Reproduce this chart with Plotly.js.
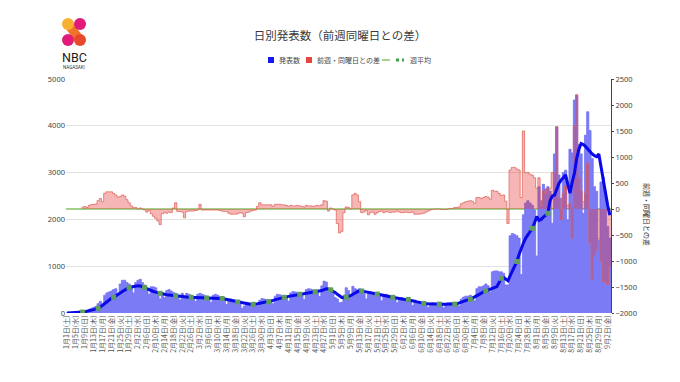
<!DOCTYPE html>
<html>
<head>
<meta charset="utf-8">
<script src="https://cdn.plot.ly/plotly-3.0.1.min.js"></script>
<style>
html,body{margin:0;padding:0;background:#fff;}
#chart{width:680px;height:382px;}
</style>
</head>
<body>
<div id="chart"></div>
<script>
// ---- data (2022, day 0 = 1月1日(土)) ----
const tickLabels = [
'1月1日(土)','1月5日(水)','1月9日(日)','1月13日(木)','1月17日(月)','1月21日(金)','1月25日(火)','1月29日(土)',
'2月2日(水)','2月6日(日)','2月10日(木)','2月14日(月)','2月18日(金)','2月22日(火)','2月26日(土)',
'3月2日(水)','3月6日(日)','3月10日(木)','3月14日(月)','3月18日(金)','3月22日(火)','3月26日(土)','3月30日(水)',
'4月3日(日)','4月7日(木)','4月11日(月)','4月15日(金)','4月19日(火)','4月23日(土)','4月27日(水)',
'5月1日(日)','5月5日(木)','5月9日(月)','5月13日(金)','5月17日(火)','5月21日(土)','5月25日(水)','5月29日(日)',
'6月2日(木)','6月6日(月)','6月10日(金)','6月14日(火)','6月18日(土)','6月22日(水)','6月26日(日)','6月30日(木)',
'7月4日(月)','7月8日(金)','7月12日(火)','7月16日(土)','7月20日(水)','7月24日(日)','7月28日(木)',
'8月1日(月)','8月5日(金)','8月9日(火)','8月13日(土)','8月17日(水)','8月21日(日)','8月25日(木)','8月29日(月)',
'9月2日(金)'
];

const cases = [
5,3,2,10,15,30,45,
40,50,30,80,100,120,140,
200,250,170,380,430,450,470,
500,520,400,620,700,700,650,
620,580,430,650,700,720,650,
600,520,400,560,560,540,420,
300,430,330,480,500,470,440,
420,380,280,420,330,420,400,
380,340,250,400,420,400,380,
360,320,230,380,400,380,350,
320,270,180,300,300,280,250,
230,200,100,150,230,220,210,
200,180,150,270,310,300,290,
280,260,200,360,400,390,370,
360,330,250,430,460,450,440,
420,380,290,500,520,510,490,
480,450,350,580,680,660,450,
500,450,330,300,220,230,380,
540,480,330,570,520,500,520,
470,420,300,460,450,440,420,
400,370,260,390,400,380,350,
340,310,220,330,330,310,290,
270,240,160,230,230,210,200,
190,180,120,210,220,210,200,
190,170,110,200,220,220,210,
220,200,150,300,340,360,360,
380,350,260,520,560,560,580,
620,580,450,880,900,900,880,
880,850,600,600,1650,1700,1680,
1650,1600,820,2100,2350,2400,2350,
2300,2200,1220,2700,2400,2750,2650,
2700,2600,1920,3400,3980,2950,2450,
3000,3050,1990,3500,3420,4550,4650,
3600,3400,2130,3800,4300,3900,3300,
2700,2600,1560,2800,2900,2500,1850,
1600
];

const diffPrevWeek = [
null,null,null,null,null,null,null,
35,47,28,70,85,90,95,
160,200,140,300,330,330,330,
300,270,230,240,270,250,180,
120,60,30,30,0,20,0,
-20,-60,-30,-90,-140,-180,-230,
-300,-90,-70,-80,-60,-70,20,
120,-50,-50,-60,-170,-50,-40,
-40,-40,-30,-20,90,-20,-20,
-20,-20,-20,-20,-20,-20,-30,
-40,-50,-50,-80,-100,-100,-100,
-90,-70,-80,-150,-70,-60,-40,
-30,-20,50,120,80,80,80,
80,80,50,90,90,90,80,
80,70,50,70,60,60,70,
60,50,40,70,60,60,50,
60,70,60,80,160,150,-40,
20,0,-20,-280,-460,-430,-70,
40,30,0,270,300,270,140,
-70,-60,-30,-110,-70,-60,-100,
-70,-50,-40,-70,-50,-60,-70,
-60,-60,-40,-60,-70,-70,-60,
-70,-70,-60,-100,-100,-100,-90,
-80,-60,-40,-20,-10,0,0,
0,-10,-10,-10,0,10,10,
30,30,40,100,120,140,150,
160,150,110,220,220,200,220,
240,230,190,360,340,340,300,
260,270,150,-280,750,800,800,
770,750,220,1500,700,700,670,
650,600,400,600,50,350,300,
400,400,700,700,1580,200,-200,
300,450,70,100,-560,1600,2200,
600,350,140,300,880,-650,-1350,
-900,-800,-570,-1000,-1400,-1400,-1450,
-1100
];

const avgLine = [
0,1,2,4,8,12,17,
20,28,36,46,58,72,86,
100,130,165,205,245,285,315,
335,370,400,430,460,490,520,
540,555,565,575,580,578,565,
545,520,495,475,460,445,430,
420,410,400,392,385,378,370,
365,360,355,350,345,340,338,
335,332,330,328,326,324,322,
320,318,316,314,313,312,311,
310,300,288,275,262,250,242,
235,225,215,205,198,192,188,
185,190,198,207,216,225,233,
240,255,270,285,300,312,324,
335,345,355,365,375,383,392,
400,408,416,424,432,440,448,
455,462,470,480,500,520,515,
495,470,440,400,360,330,325,
335,350,370,400,430,455,468,
470,462,452,440,428,418,410,
405,395,385,372,360,350,342,
335,328,320,312,305,298,294,
290,278,265,252,238,225,214,
205,200,196,193,191,190,190,
190,189,188,188,189,189,190,
190,200,215,230,245,260,275,
290,315,345,375,405,430,452,
470,490,510,530,545,565,650,
740,760,730,690,800,900,1000,
1100,1250,1400,1500,1600,1680,1760,
1810,1930,2060,1980,2000,2050,2100,
2130,2400,2500,2520,2650,2770,2840,
2900,2950,2750,2560,2800,2990,3300,
3500,3620,3600,3560,3500,3450,3400,
3360,3340,3400,3100,2840,2550,2300,
2090
];

// weekly average, one value per Saturday (day 7, 14, ...)
const weeklyAvg = [20,100,335,540,545,420,365,335,320,310,235,185,240,335,400,455,495,335,470,405,335,290,205,190,190,290,470,740,1100,1810,2130];

const seriesNames = ['発表数', '前週・同曜日との差', '週平均'];
const chartTitle = '日別発表数（前週同曜日との差）';
const rightAxisTitle = '前週・同曜日との差';

// ---- build traces ----
const n = cases.length;
const dayIdx = cases.map((_, i) => i);
const stepX = dayIdx.map(i => i - 0.5).concat([n - 0.5]);
const stepY = cases.concat([cases[n - 1]]);

const rX = [], rY = [];
diffPrevWeek.forEach((v, i) => { if (v !== null) { rX.push(i - 0.5); rY.push(v); } });
rX.push(n - 0.5); rY.push(diffPrevWeek[n - 1]);

const weekX = weeklyAvg.map((_, k) => 7 * (k + 1));

const traces = [
  {x: stepX, y: stepY, type: 'scatter', mode: 'lines', line: {shape: 'hv', color: '#6c6cf2', width: 0.7},
   fill: 'tozeroy', fillcolor: '#7b7bf6', yaxis: 'y', showlegend: false, name: seriesNames[0], hoverinfo: 'skip'},
  {x: rX, y: rY, type: 'scatter', mode: 'lines', line: {shape: 'hv', color: 'rgba(225,95,85,0.9)', width: 0.8},
   fill: 'tozeroy', fillcolor: 'rgba(229,57,53,0.37)', yaxis: 'y2', showlegend: false, name: seriesNames[1], hoverinfo: 'skip'},
  {x: dayIdx, y: avgLine, type: 'scatter', mode: 'lines', line: {color: '#0808e8', width: 3},
   yaxis: 'y3', showlegend: false, hoverinfo: 'skip'},
  {x: weekX, y: weeklyAvg, type: 'scatter', mode: 'markers', marker: {symbol: 'square', size: 5, color: '#5e9f5e'},
   yaxis: 'y3', showlegend: false, name: seriesNames[2], hoverinfo: 'skip'}
];

// pixel -> paper helpers (plot area: x 66..611, y 79..313)
const L = 66, R = 611, T = 79, B = 313;
const PX = x => (x - L) / (R - L);
const PY = y => (B - y) / (B - T);

const jp = 'Noto Sans CJK JP, sans-serif';
const legendY = 60;

const shapes = [
  // NBC logo
  {type: 'line', xref: 'paper', yref: 'paper', x0: PX(68), y0: PY(24), x1: PX(80), y1: PY(40), line: {color: '#f0732c', width: 9}},
  {type: 'circle', xref: 'paper', yref: 'paper', x0: PX(62), x1: PX(74), y0: PY(18), y1: PY(30), fillcolor: '#f8b12e', line: {width: 0}},
  {type: 'circle', xref: 'paper', yref: 'paper', x0: PX(74), x1: PX(86), y0: PY(18), y1: PY(30), fillcolor: '#e21b7a', line: {width: 0}},
  {type: 'circle', xref: 'paper', yref: 'paper', x0: PX(62), x1: PX(74), y0: PY(34), y1: PY(46), fillcolor: '#e21b7a', line: {width: 0}},
  {type: 'circle', xref: 'paper', yref: 'paper', x0: PX(74), x1: PX(86), y0: PY(34), y1: PY(46), fillcolor: '#e8492b', line: {width: 0}},
  // legend symbols
  {type: 'rect', xref: 'paper', yref: 'paper', x0: PX(268), x1: PX(274), y0: PY(legendY - 3), y1: PY(legendY + 3), fillcolor: '#1616ee', line: {width: 0}},
  {type: 'rect', xref: 'paper', yref: 'paper', x0: PX(306), x1: PX(312), y0: PY(legendY - 3), y1: PY(legendY + 3), fillcolor: '#e8453c', line: {width: 0}},
  {type: 'line', xref: 'paper', yref: 'paper', x0: PX(382), x1: PX(390), y0: PY(legendY), y1: PY(legendY), line: {color: '#a8d48e', width: 2}},
  {type: 'line', xref: 'paper', yref: 'paper', x0: PX(396), x1: PX(404), y0: PY(legendY), y1: PY(legendY), line: {color: '#3f9d4f', width: 3, dash: 'dot'}}
];

const annotations = [
  {text: 'NBC', xref: 'paper', yref: 'paper', x: PX(74), y: PY(57.5), showarrow: false, xanchor: 'center', yanchor: 'middle',
   font: {family: 'Roboto, Arial, sans-serif', size: 12.5, color: '#1a1a1a'}},
  {text: 'NAGASAKI', xref: 'paper', yref: 'paper', x: PX(74), y: PY(67.5), showarrow: false, xanchor: 'center', yanchor: 'middle',
   font: {family: 'Roboto, Arial, sans-serif', size: 4.5, color: '#333'}},
  {text: seriesNames[0], xref: 'paper', yref: 'paper', x: PX(277), y: PY(legendY), showarrow: false, xanchor: 'left', yanchor: 'middle',
   font: {family: jp, size: 7, color: '#444'}},
  {text: seriesNames[1], xref: 'paper', yref: 'paper', x: PX(315), y: PY(legendY), showarrow: false, xanchor: 'left', yanchor: 'middle',
   font: {family: jp, size: 7, color: '#444'}},
  {text: seriesNames[2], xref: 'paper', yref: 'paper', x: PX(408), y: PY(legendY), showarrow: false, xanchor: 'left', yanchor: 'middle',
   font: {family: jp, size: 7, color: '#444'}},
  {text: rightAxisTitle, xref: 'paper', yref: 'paper', x: PX(647), y: PY(214), showarrow: false, textangle: 90,
   xanchor: 'center', yanchor: 'middle', font: {family: jp, size: 7, color: '#333'}}
];

const layout = {
  width: 680, height: 382,
  margin: {l: L, r: 680 - R, t: T, b: 382 - B, pad: 0},
  paper_bgcolor: '#fff', plot_bgcolor: '#fff',
  title: {text: chartTitle, x: 0.5, xanchor: 'center', y: 1 - 36 / 382, yanchor: 'middle',
          font: {family: jp, size: 11.5, color: '#3a3a3a'}},
  showlegend: false,
  xaxis: {range: [-0.5, n - 0.5], tickvals: tickLabels.map((_, i) => i * 4), ticktext: tickLabels,
          tickangle: -90, tickfont: {family: jp, size: 7, color: '#555'}, showgrid: false, zeroline: false,
          showline: false, ticks: '', fixedrange: true},
  yaxis: {range: [0, 5000], tickvals: [0, 1000, 2000, 3000, 4000, 5000], gridcolor: '#e2e2e2', gridwidth: 1,
          zeroline: false, showline: false, ticks: '', tickfont: {family: 'Noto Sans, Arial, sans-serif', size: 7.5, color: '#444'}},
  yaxis2: {range: [-2000, 2500], tickvals: [-2000, -1500, -1000, -500, 0, 500, 1000, 1500, 2000, 2500],
           overlaying: 'y', side: 'right', showgrid: false, zeroline: true, zerolinecolor: '#a3d18a', zerolinewidth: 1.5,
           showline: true, linecolor: '#444', linewidth: 1, ticks: 'outside', ticklen: 2, tickcolor: '#444',
           tickfont: {family: 'Noto Sans, Arial, sans-serif', size: 7.5, color: '#444'}},
  yaxis3: {range: [0, 5000], overlaying: 'y', visible: false},
  shapes: shapes,
  annotations: annotations
};

Plotly.newPlot('chart', traces, layout, {staticPlot: true, displayModeBar: false});
</script>
</body>
</html>
